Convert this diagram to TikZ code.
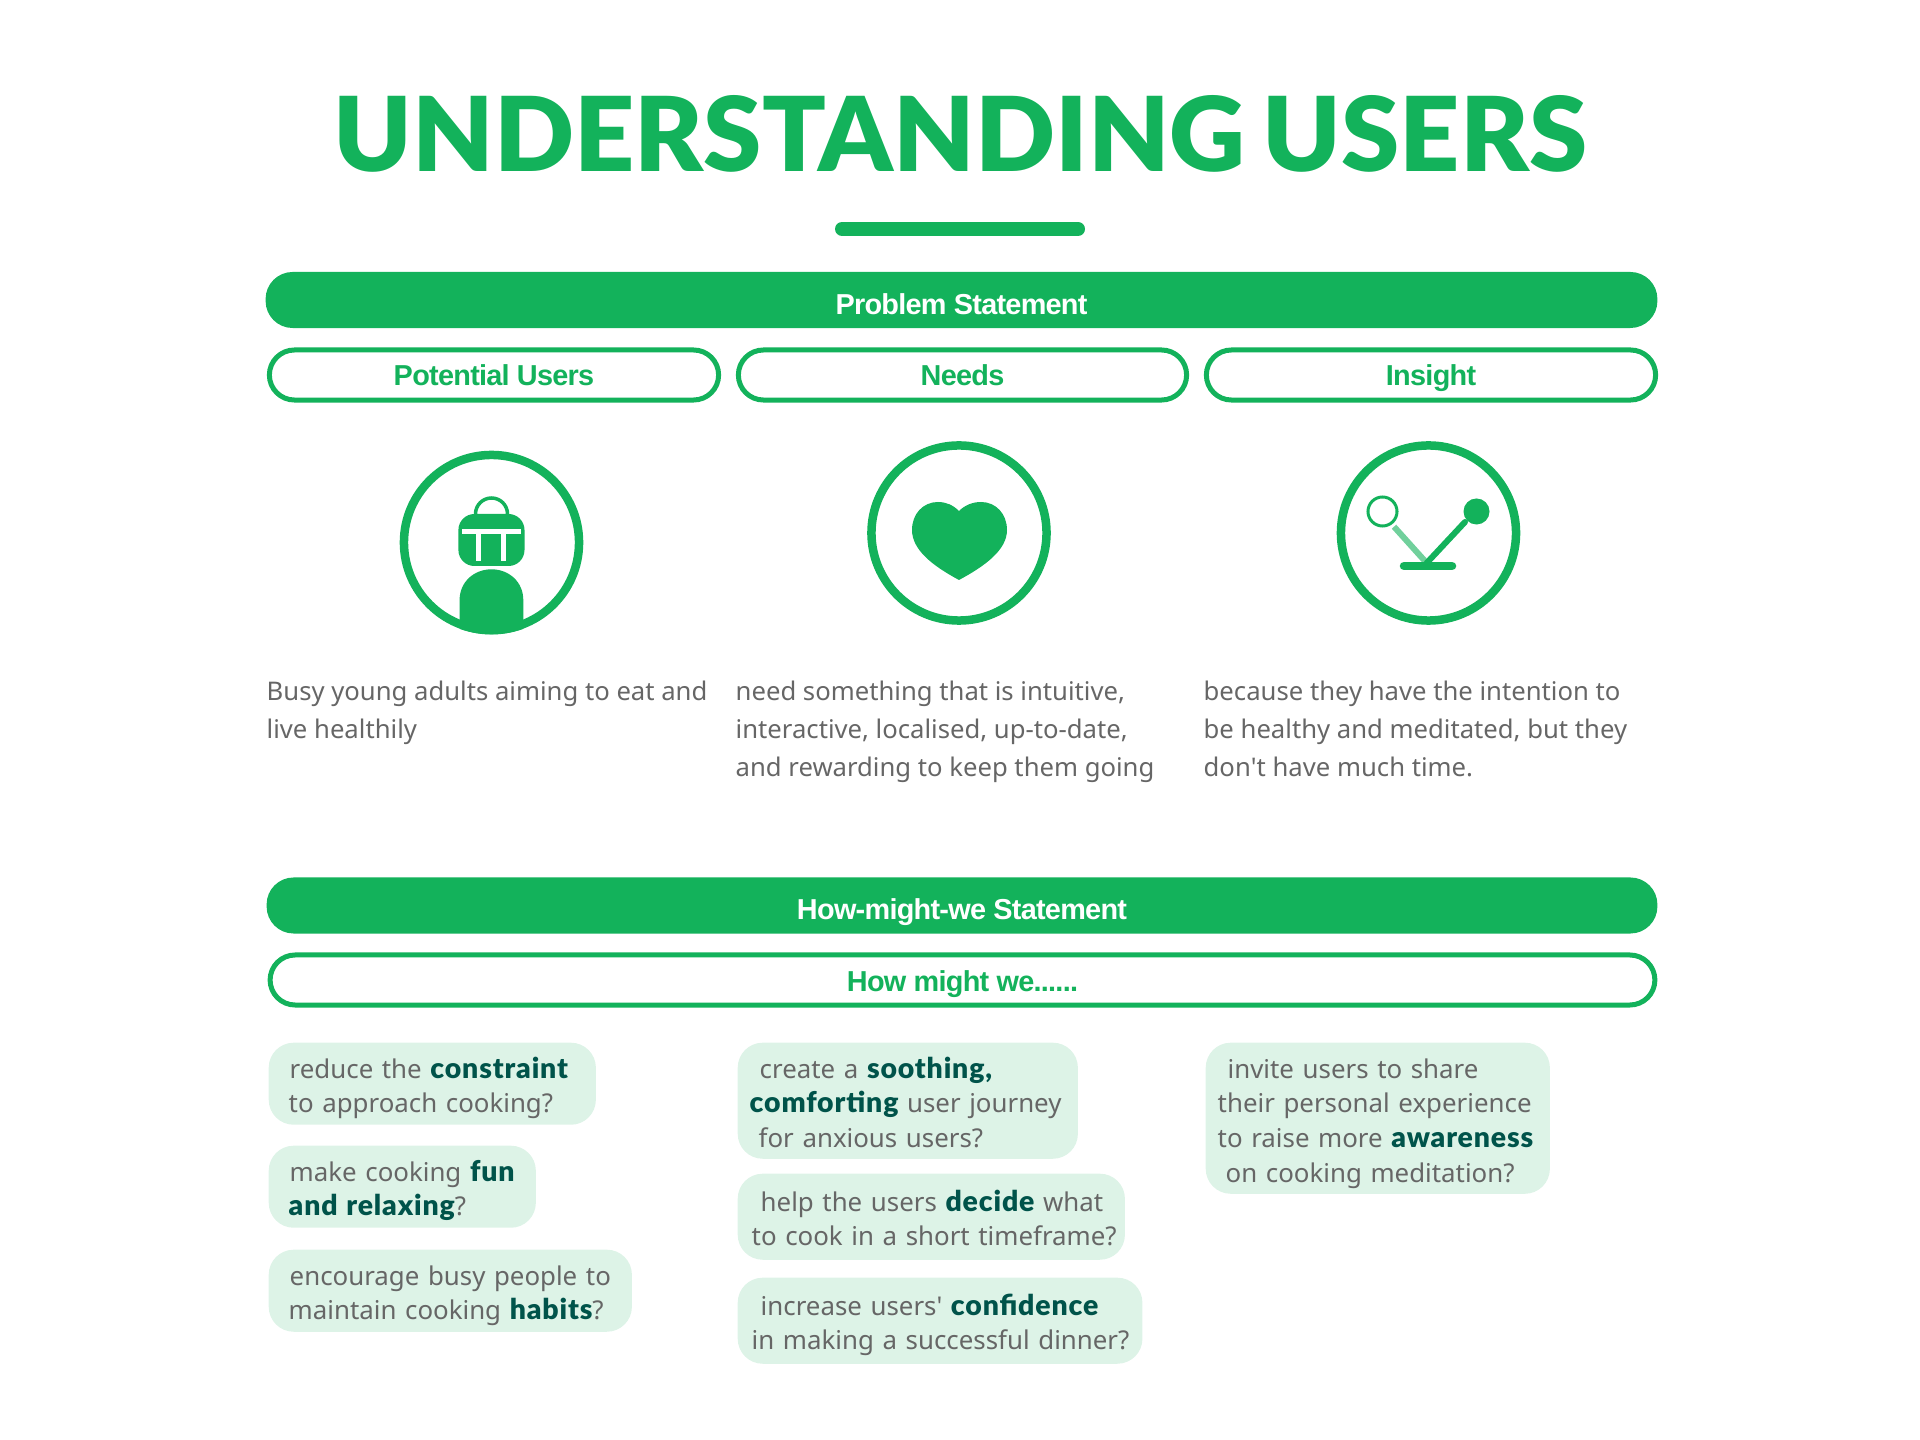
\documentclass[tikz,border=0pt]{standalone}
\usepackage{fontspec}
\setmainfont{Noto Sans}
\newfontfamily\titlefont{Lato Black}
\newfontfamily\heavyfont[Scale=1.1,LetterSpace=3]{Lato Black}
\newfontfamily\headfont[LetterSpace=-2.5]{Liberation Sans}
\usepackage{xcolor}
\definecolor{leaf}{HTML}{13B25B}
\definecolor{mint}{HTML}{DDF3E7}
\definecolor{pine}{HTML}{00534A}
\definecolor{slate}{HTML}{666666}
\newcommand{\hl}[1]{{\heavyfont\color{pine}#1}}
\tikzset{
    bar/.style={fill=leaf,rounded corners=.27cm,minimum height=.56cm,text height=.28cm,text depth=0cm,text=white,font=\headfont\fontsize{8.2}{10}\selectfont\bfseries},
    pill/.style={draw=leaf,line width=.05cm,fill=white,rounded corners=.25cm,minimum height=.5cm,text height=.22cm,text depth=0cm,text=leaf,font=\headfont\fontsize{8.2}{10}\selectfont\bfseries},
    ring/.style={draw=leaf,line width=.085cm,fill=white},
    body/.style={anchor=north west,inner sep=0pt,align=left,text=slate,font=\fontsize{7.3}{10.8}\selectfont},
    bubble/.style={anchor=north west,fill=mint,rounded corners=.25cm,inner xsep=.1cm,inner ysep=0pt,align=left,text=slate,font=\fontsize{7.35}{9.82}\selectfont,execute at begin node={\rule{0pt}{.305cm}},execute at end node={\rule[-.065cm]{0pt}{.065cm}}}
}

\begin{document}
\begin{tikzpicture}[x=.01cm,y=-.01cm]
    \useasboundingbox (0,0) rectangle (1920,1440);

    % Title
    \node[text=leaf] (title) at (960.5,133.5) {\resizebox{12.53cm}{.76cm}{\titlefont UNDERSTANDING\hspace{.16em}USERS}};
    \draw[leaf,line width=.14cm,line cap=round] (842,229) -- (1078,229);

    % Problem statement
    \node[bar,minimum width=13.91cm] (problem) at (961.5,300) {Problem Statement};
    \node[pill,minimum width=4.49cm] (users) at (494,375) {Potential Users};
    \node[pill,minimum width=4.48cm] (needs) at (962.5,375) {Needs};
    \node[pill,minimum width=4.49cm] (insight) at (1431,375) {Insight};

    % Users icon
    \node[ring,circle,minimum size=1.75cm] (usersring) at (491.5,542.5) {};
    \begin{scope}
        \clip (usersring.center) circle[radius=92];
        \fill[leaf] (459.6,640) -- (459.6,600) .. controls (459.6,582) and (474,569.3) .. (491.5,569.3) .. controls (509,569.3) and (523.3,582) .. (523.3,600) -- (523.3,640) -- cycle;
    \end{scope}
    \draw[leaf,line width=.035cm] (475.5,516) -- (475.5,514) arc[start angle=180, end angle=360, radius=16] -- (507.5,516);
    \fill[leaf,rounded corners=.16cm] (458.4,514) rectangle (524.5,566);
    \fill[white] (461.6,529) rectangle (521.2,534);
    \fill[white] (476.3,534) rectangle (480.8,560.7);
    \fill[white] (501.2,534) rectangle (505.7,560.7);

    % Needs icon
    \node[ring,circle,minimum size=1.75cm] (needsring) at (959,533) {};
    \fill[leaf] (959,511) .. controls (965,505) and (973,502) .. (981,502) .. controls (996,502) and (1007,514) .. (1007,530) .. controls (1007,550) and (985,566) .. (959,580) .. controls (933,566) and (912,550) .. (912,530) .. controls (912,514) and (923,502) .. (938,502) .. controls (946,502) and (953,505) .. (959,511) -- cycle;

    % Insight icon
    \node[ring,circle,minimum size=1.75cm] (insightring) at (1428.5,533) {};
    \node[circle,draw=leaf,line width=.03cm,fill=white,minimum size=.29cm,inner sep=0pt] (optiona) at (1382.5,511.5) {};
    \node[circle,fill=leaf,minimum size=.26cm,inner sep=0pt] (optionb) at (1476.5,511.5) {};
    \coordinate (pivot) at (1426.7,563);
    \draw[leaf,opacity=.6,line width=.06cm] (1394,526.7) -- (pivot);
    \draw[leaf,line width=.06cm,line cap=round] (1465,522) -- (pivot);
    \draw[leaf,line width=.085cm,line cap=round] (1404,566) -- (1452,566);

    % Problem texts
    \node[body] (userstext) at (266,680) {Busy young adults aiming to eat and\\live healthily};
    \node[body] (needstext) at (735,680) {need something that is intuitive,\\interactive, localised, up-to-date,\\and rewarding to keep them going};
    \node[body] (insighttext) at (1203,680) {because they have the intention to\\be healthy and meditated, but they\\don\textquotesingle t have much time.};

    % How-might-we statement
    \node[bar,minimum width=13.9cm] (hmw) at (962,905.5) {How-might-we Statement};
    \node[pill,minimum width=13.84cm] (hmwpill) at (962.5,980) {How might we......};

    % Left column
    \node[bubble,minimum width=3.27cm,minimum height=.82cm,text width=3.07cm] (b1) at (268,1042) {\hspace*{.11cm}reduce the \hl{constraint}\\\hspace*{.1cm}to approach cooking?};
    \node[bubble,minimum width=2.67cm,minimum height=.82cm,text width=2.47cm] (b2) at (268,1145) {\hspace*{.11cm}make cooking \hl{fun}\\\hspace*{.1cm}\hl{and relaxing}?};
    \node[bubble,minimum width=3.63cm,minimum height=.82cm,text width=3.43cm] (b3) at (268,1249) {\hspace*{.11cm}encourage busy people to\\\hspace*{.1cm}maintain cooking \hl{habits}?};

    % Middle column
    \node[bubble,minimum width=3.4cm,minimum height=1.16cm,text width=3.2cm] (b4) at (737,1042) {\hspace*{.12cm}create a \hl{soothing,}\\\hspace*{.02cm}\hl{comforting} user journey\\\hspace*{.11cm}for anxious users?};
    \node[bubble,minimum width=3.87cm,minimum height=.86cm,text width=3.67cm] (b5) at (737,1173) {\hspace*{.13cm}help the users \hl{decide} what\\\hspace*{.04cm}\mbox{to cook in a short timeframe?}};
    \node[bubble,minimum width=4.045cm,minimum height=.86cm,text width=3.845cm] (b6) at (737,1277) {\hspace*{.13cm}increase users\textquotesingle{} \hl{confidence}\\\hspace*{.04cm}\mbox{in making a successful dinner?}};

    % Right column
    \node[bubble,minimum width=3.44cm,minimum height=1.51cm,text width=3.24cm] (b7) at (1205,1042) {\hspace*{.12cm}invite users to share\\\hspace*{.02cm}their personal experience\\\hspace*{.02cm}to raise more \mbox{\hl{awareness}}\\\hspace*{.1cm}on cooking meditation?};
\end{tikzpicture}
\end{document}
